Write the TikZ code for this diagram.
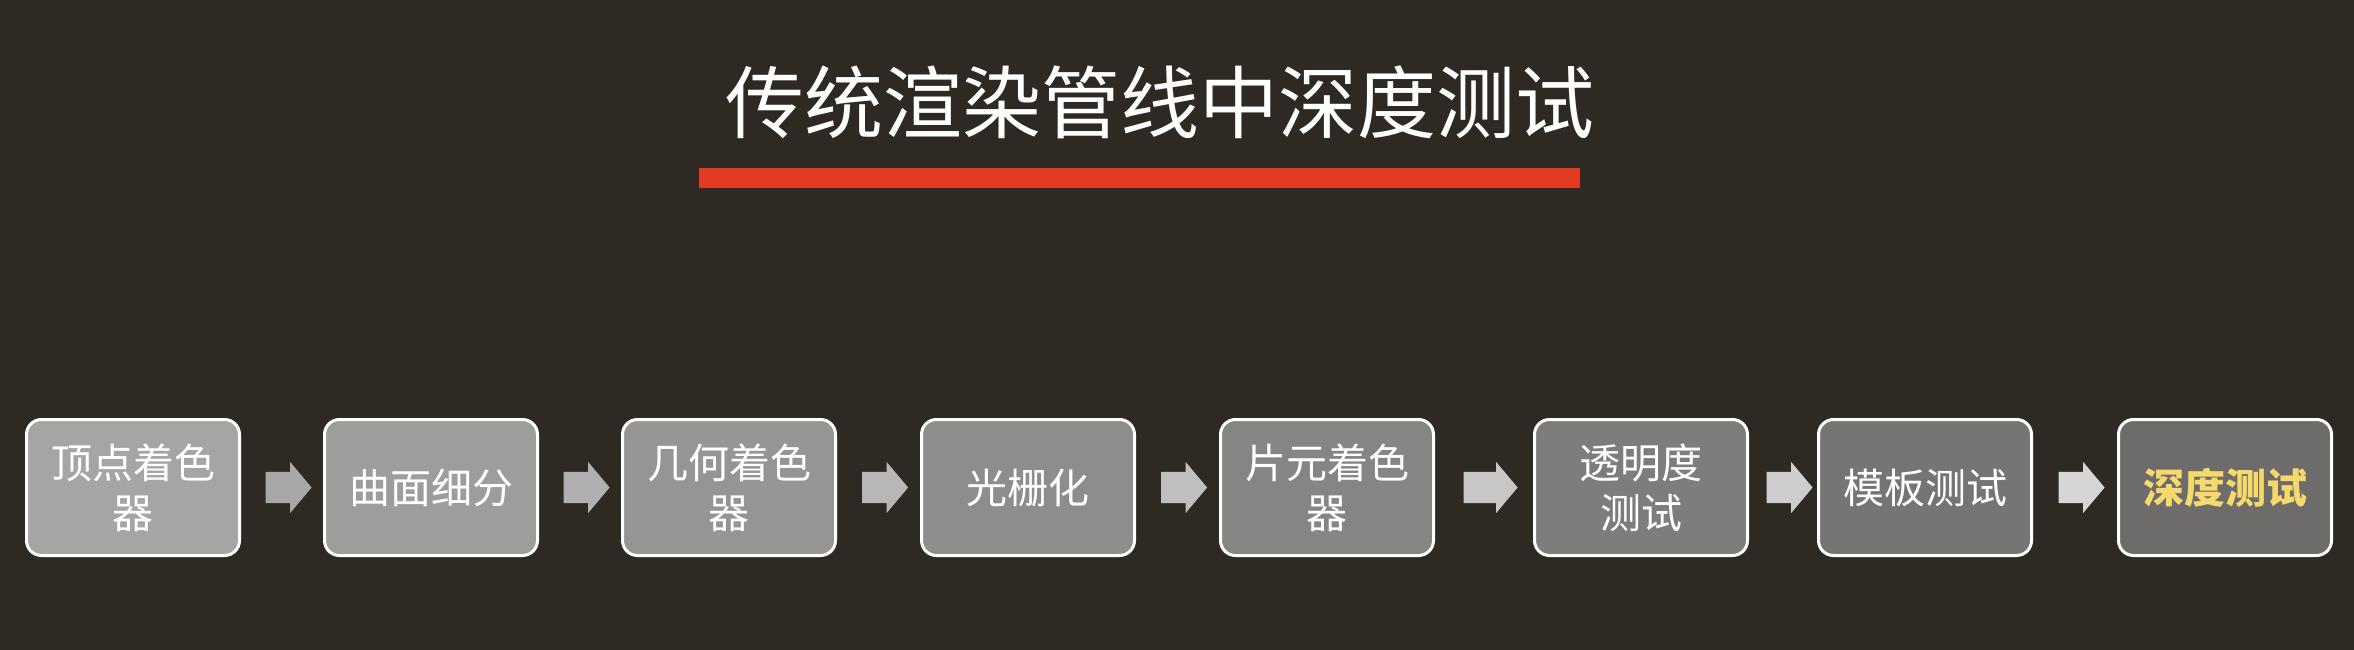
\documentclass[tikz,border=0pt]{standalone}
\usepackage{fontspec}
\newfontfamily\cjk{Noto Sans CJK SC}
\usetikzlibrary{shapes.arrows,calc}
\definecolor{bg}{HTML}{2E2A23}
\definecolor{redbar}{HTML}{E23B22}
\definecolor{boxL}{HTML}{A5A5A3}
\definecolor{boxR}{HTML}{6D6C6A}
\definecolor{arrL}{HTML}{A8A8A8}
\definecolor{arrR}{HTML}{D6D6D6}
\definecolor{hilite}{HTML}{F6D96C}
\tikzset{
  stagebox/.style={draw=white, line width=3pt, rounded corners=15pt,
    minimum width=213pt, minimum height=136pt, inner sep=0pt,
    align=center, text=white, font=\cjk\fontsize{41}{50}\selectfont},
  flowarrow/.style={single arrow, draw=none, inner sep=0pt, outer sep=0pt,
    minimum height=46pt,
    single arrow head extend=10pt, single arrow tip angle=100},
  titletext/.style={text=white, font=\cjk\fontsize{79}{90}\selectfont, inner sep=0pt}
}
\newcommand{\shaftstrut}{\rule{0pt}{31pt}}
\begin{document}
\begin{tikzpicture}[x=1pt,y=-1pt]
\fill[bg] (0,0) rectangle (2354,650);
\useasboundingbox (0,0) rectangle (2354,650);
\node[titletext] (title) at (1160,102) {传统渲染管线中深度测试};
\fill[redbar] (699,168) rectangle (1580,188);

\node[stagebox, fill=boxR!0!boxL]   (b1) at (133,487.5)  {顶点着色\\器};
\node[stagebox, fill=boxR!14!boxL]  (b2) at (431,487.5)  {曲面细分};
\node[stagebox, fill=boxR!28!boxL]  (b3) at (729,487.5)  {几何着色\\器};
\node[stagebox, fill=boxR!42!boxL]  (b4) at (1028,487.5) {光栅化};
\node[stagebox, fill=boxR!57!boxL]  (b5) at (1327,487.5) {片元着色\\器};
\node[stagebox, fill=boxR!71!boxL]  (b6) at (1641,487.5) {透明度\\测试};
\node[stagebox, fill=boxR!85!boxL]  (b7) at (1925,487.5) {模板测试};
\node[stagebox, fill=boxR!100!boxL, text=hilite, font=\cjk\bfseries\fontsize{41}{50}\selectfont] (b8) at (2225,487.5) {深度测试};

\node[flowarrow, fill=arrR!0!arrL]   (a1) at ($(b1.east)!0.5!(b2.west)$) {\shaftstrut};
\node[flowarrow, fill=arrR!17!arrL]  (a2) at ($(b2.east)!0.5!(b3.west)$) {\shaftstrut};
\node[flowarrow, fill=arrR!33!arrL]  (a3) at ($(b3.east)!0.5!(b4.west)$) {\shaftstrut};
\node[flowarrow, fill=arrR!50!arrL]  (a4) at ($(b4.east)!0.5!(b5.west)$) {\shaftstrut};
\node[flowarrow, fill=arrR!67!arrL, minimum height=54pt]  (a5) at ($(b5.east)!0.5!(b6.west)$) {\shaftstrut};
\node[flowarrow, fill=arrR!83!arrL]  (a6) at ($(b6.east)!0.5!(b7.west)$) {\shaftstrut};
\node[flowarrow, fill=arrR!100!arrL] (a7) at ($(b7.east)!0.5!(b8.west)$) {\shaftstrut};
\end{tikzpicture}
\end{document}
